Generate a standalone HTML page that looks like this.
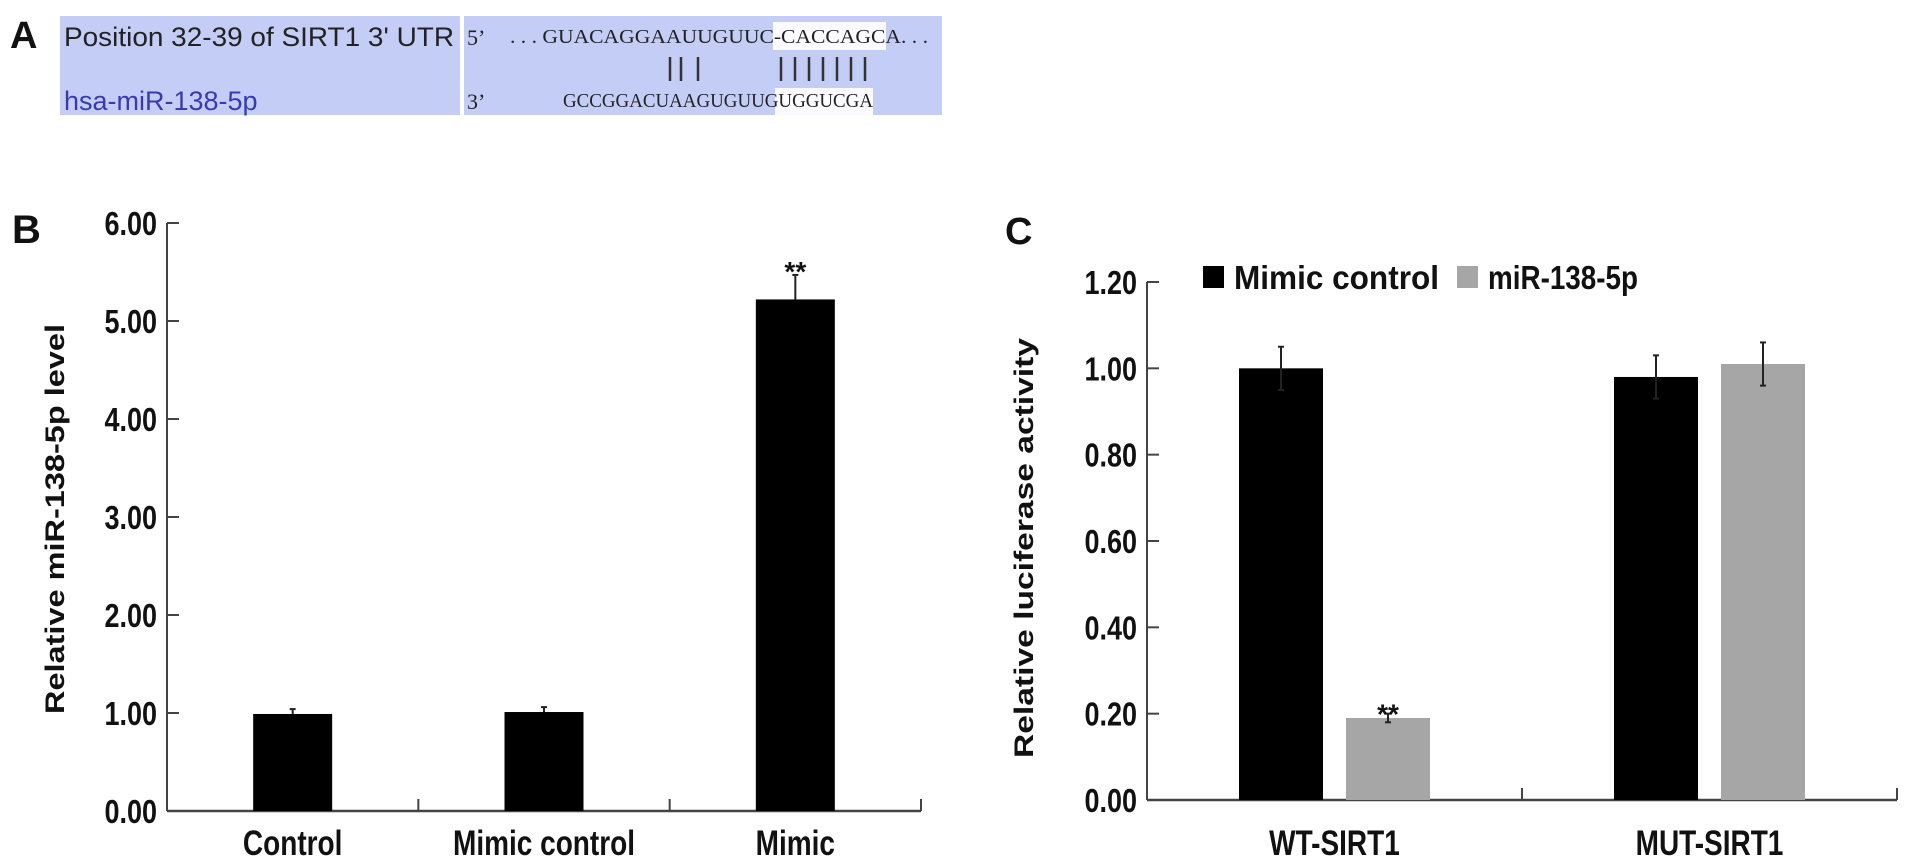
<!DOCTYPE html>
<html><head><meta charset="utf-8"><style>
html,body{margin:0;padding:0;background:#fff;width:1913px;height:866px;overflow:hidden}
svg{display:block}
.b{font-family:"Liberation Sans",Arial,sans-serif;font-weight:bold;fill:#111}
.seq{font-family:"Liberation Serif",serif;fill:#222;font-size:20px}
</style></head><body>
<svg id="fig" width="1913" height="866" viewBox="0 0 1913 866" xmlns="http://www.w3.org/2000/svg">
<g>
<text class="b" x="10" y="48" font-size="38">A</text>
<rect x="60" y="16" width="400" height="99" fill="#c4cdf6"/>
<rect x="464" y="16" width="478" height="99" fill="#c4cdf6"/>
<rect x="773" y="22" width="113" height="28" fill="#fbfbfd"/>
<rect x="775" y="88" width="98" height="27" fill="#fbfbfd"/>
<text x="64" y="46" font-family="Liberation Sans,Arial,sans-serif" font-size="27" textLength="390" lengthAdjust="spacingAndGlyphs" fill="#222">Position 32-39 of SIRT1 3' UTR</text>
<text x="64" y="110" font-family="Liberation Sans,Arial,sans-serif" font-size="27" fill="#3a3ab0">hsa-miR-138-5p</text>
<text x="467" y="45" font-family="Liberation Serif,serif" font-size="22" fill="#222">5’</text>
<text x="467" y="109" font-family="Liberation Serif,serif" font-size="22" fill="#222">3’</text>
<text class="seq" x="510" y="43" textLength="418" lengthAdjust="spacingAndGlyphs">. . . GUACAGGAAUUGUUC-CACCAGCA. . .</text>
<text class="seq" x="563" y="107" textLength="310" lengthAdjust="spacingAndGlyphs">GCCGGACUAAGUGUUGUGGUCGA</text>
<g stroke="#333" stroke-width="2.5">
<line x1="670" y1="57" x2="670" y2="81"/><line x1="681" y1="57" x2="681" y2="81"/><line x1="698" y1="57" x2="698" y2="81"/>
<line x1="781" y1="57" x2="781" y2="81"/><line x1="795" y1="57" x2="795" y2="81"/><line x1="809" y1="57" x2="809" y2="81"/><line x1="823" y1="57" x2="823" y2="81"/><line x1="837" y1="57" x2="837" y2="81"/><line x1="851" y1="57" x2="851" y2="81"/><line x1="865" y1="57" x2="865" y2="81"/>
</g>
</g>
<g id="chartB"></g>
<g id="chartC"></g>
</svg>
<script>
const NS="http://www.w3.org/2000/svg";
// Panel B data
const bCategories=["Control","Mimic control","Mimic"];
const bValues=[0.99,1.01,5.22];
const bErrors=[0.05,0.05,0.25];
const bSig=["","","**"];
const bTicks=[0,1,2,3,4,5,6];
const bTickLabels=["0.00","1.00","2.00","3.00","4.00","5.00","6.00"];
// Panel C data
const cCategories=["WT-SIRT1","MUT-SIRT1"];
const cSeries=["Mimic control","miR-138-5p"];
const cMimicControl=[1.00,0.98];
const cMir138=[0.19,1.01];
const cErrMimicControl=[0.05,0.05];
const cErrMir138=[0.01,0.05];
const cSigMir138=["**",""];
const cTicks=[0,0.2,0.4,0.6,0.8,1.0,1.2];
const cTickLabels=["0.00","0.20","0.40","0.60","0.80","1.00","1.20"];

function mk(parent,tag,attrs,text){const e=document.createElementNS(NS,tag);for(const k in attrs)e.setAttribute(k,attrs[k]);if(text!==undefined)e.textContent=text;parent.appendChild(e);return e;}
function stxt(parent,x,y,size,anchor,str){return mk(parent,'text',{class:'b',x:0,y:0,'font-size':size,'text-anchor':anchor,transform:'translate('+x+','+y+') scale(1,1.25)'},str);}

(function(){
const g=document.getElementById('chartB');
const x0=167,x1=921,y0=811,yTop=223,vmax=6;
const y=v=>y0-(v/vmax)*(y0-yTop);
const bw=(x1-x0)/bCategories.length;
let t=mk(g,'text',{class:'b',x:12,y:243,'font-size':40},'B');


let ax=mk(g,'line',{x1:x0,y1:yTop,x2:x0,y2:y0,stroke:'#444','stroke-width':2});


let xa=mk(g,'line',{x1:x0,y1:y0,x2:x1,y2:y0,stroke:'#444','stroke-width':2.5});


bTicks.forEach((v,i)=>{
  let tk=mk(g,'line',{x1:x0,y1:y(v),x2:x0+12,y2:y(v),stroke:'#444','stroke-width':2});
  
  
  let tl=stxt(g,157,y(v)+12,27,'end',bTickLabels[i]);
  
  
});
for(let i=1;i<=bCategories.length;i++){
  let tk=mk(g,'line',{x1:x0+bw*i,y1:y0,x2:x0+bw*i,y2:y0-12,stroke:'#444','stroke-width':2});
  
  
}
bCategories.forEach((c,i)=>{
  const cx=x0+bw*(i+0.5),w=79;
  const e=mk(g,'line',{x1:cx,y1:y(bValues[i]+bErrors[i]),x2:cx,y2:y(bValues[i]),stroke:'#222','stroke-width':2});
  
  
  const cap=mk(g,'line',{x1:cx-3,y1:y(bValues[i]+bErrors[i]),x2:cx+3,y2:y(bValues[i]+bErrors[i]),stroke:'#222','stroke-width':2});
  
  
  const r=mk(g,'rect',{x:cx-w/2,y:y(bValues[i]),width:w,height:y0-y(bValues[i]),fill:'#000'});
  
  
  if(bSig[i]){const s=mk(g,'text',{class:'b',x:cx,y:y(bValues[i]+bErrors[i])+6,'font-size':28,'text-anchor':'middle'},bSig[i]);
    
    }
  const l=stxt(g,cx,855,28,'middle',c);
  
  
});
const yt=mk(g,'text',{class:'b',transform:'translate(64,519) rotate(-90)','font-size':27,'text-anchor':'middle',textLength:390,lengthAdjust:'spacingAndGlyphs'},'Relative miR-138-5p level');


})();

(function(){
const g=document.getElementById('chartC');
const x0=1147,x1=1897,y0=800,yTop=282,vmax=1.2;
const y=v=>y0-(v/vmax)*(y0-yTop);
const gw=(x1-x0)/cCategories.length;
let t=mk(g,'text',{class:'b',x:1005,y:244,'font-size':38},'C');


let ax=mk(g,'line',{x1:x0,y1:yTop,x2:x0,y2:y0,stroke:'#444','stroke-width':2});


let xa=mk(g,'line',{x1:x0,y1:y0,x2:x1,y2:y0,stroke:'#444','stroke-width':2.5});


cTicks.forEach((v,i)=>{
  let tk=mk(g,'line',{x1:x0,y1:y(v),x2:x0+12,y2:y(v),stroke:'#444','stroke-width':2});
  
  
  let tl=stxt(g,1137,y(v)+12,27,'end',cTickLabels[i]);
  
  
});
for(let i=1;i<=cCategories.length;i++){
  let tk=mk(g,'line',{x1:x0+gw*i,y1:y0,x2:x0+gw*i,y2:y0-12,stroke:'#444','stroke-width':2});
  
  
}
const w=84,gap=23;
cCategories.forEach((c,i)=>{
  const cx=x0+gw*(i+0.5);
  const series=[[cMimicControl[i],cErrMimicControl[i],'#000','mimic-control'],[cMir138[i],cErrMir138[i],'#a6a6a6','mir-138-5p']];
  series.forEach((s,j)=>{
    const bx=j===0?cx-gap/2-w:cx+gap/2;
    const mx=bx+w/2;
    const r=mk(g,'rect',{x:bx,y:y(s[0]),width:w,height:y0-y(s[0]),fill:s[2]});
    
    
    const e=mk(g,'line',{x1:mx,y1:y(s[0]+s[1]),x2:mx,y2:y(s[0]-s[1]),stroke:'#222','stroke-width':2});
    
    
    const c1=mk(g,'line',{x1:mx-3,y1:y(s[0]+s[1]),x2:mx+3,y2:y(s[0]+s[1]),stroke:'#222','stroke-width':2});
    
    
    const c2=mk(g,'line',{x1:mx-3,y1:y(s[0]-s[1]),x2:mx+3,y2:y(s[0]-s[1]),stroke:'#222','stroke-width':2});
    
    
    if(j===1&&cSigMir138[i]){const sg=mk(g,'text',{class:'b',x:mx,y:y(s[0]+s[1])+10,'font-size':28,'text-anchor':'middle'},cSigMir138[i]);
      
      }
  });
  const l=stxt(g,cx,855,28,'middle',c);
  
  
});
const yt=mk(g,'text',{class:'b',transform:'translate(1033,548) rotate(-90)','font-size':27,'text-anchor':'middle',textLength:420,lengthAdjust:'spacingAndGlyphs'},'Relative luciferase activity');


const lg=mk(g,'g',{});


const cols=['#000','#a6a6a6'];const lx=[1203,1457];const lw=[205,150];
cSeries.forEach((s,i)=>{
  const sq=mk(lg,'rect',{x:lx[i],y:266,width:21,height:22,fill:cols[i]});
  
  
  const tx=mk(lg,'text',{class:'b',x:0,y:0,'font-size':28,textLength:lw[i],lengthAdjust:'spacingAndGlyphs',transform:'translate('+(lx[i]+31)+',289) scale(1,1.2)'},s);
  
  
});
})();
</script>
</body></html>
